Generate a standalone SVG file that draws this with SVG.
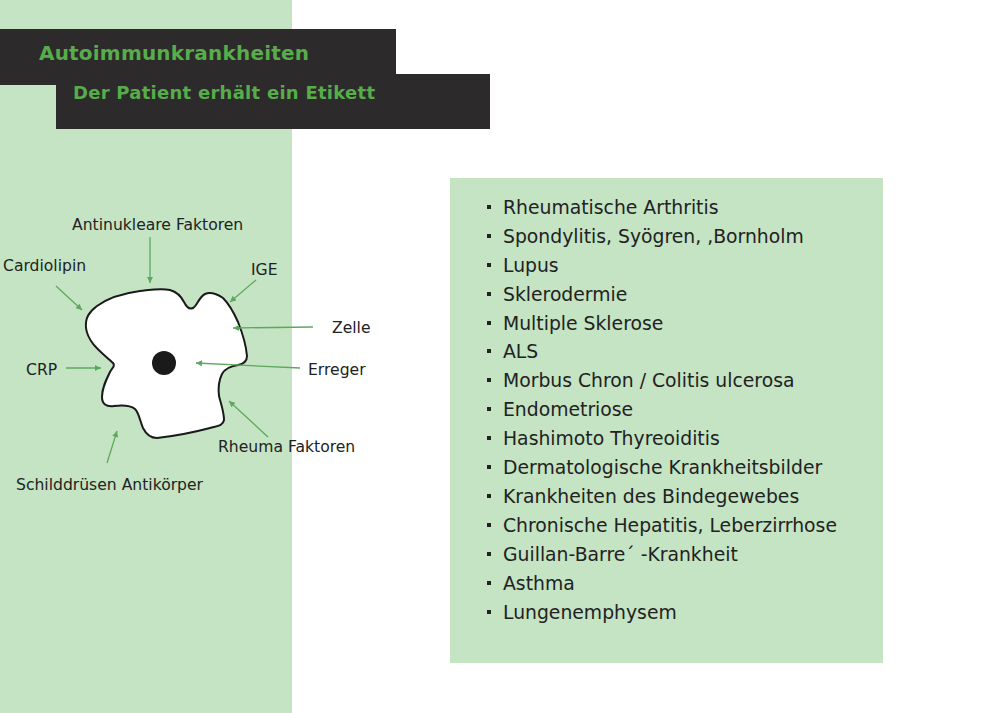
<svg xmlns="http://www.w3.org/2000/svg" width="1007" height="713" viewBox="0 0 1007 713">
<style>
.lbl{font-family:"DejaVu Sans","Liberation Sans",sans-serif;font-size:15.6px;fill:#222}
.li{font-family:"DejaVu Sans","Liberation Sans",sans-serif;font-size:18.8px;fill:#222}
.ttl{font-family:"DejaVu Sans","Liberation Sans",sans-serif;font-weight:bold;fill:#56ad4a}
.arr{stroke:#5ea85e;stroke-width:1.3;fill:none;marker-end:url(#ah)}
.bul{fill:#222}
</style>
<defs>
<marker id="ah" viewBox="0 0 10 10" refX="10" refY="5" markerWidth="8" markerHeight="6" markerUnits="userSpaceOnUse" orient="auto">
<path d="M0,0 L10,5 L0,10 Z" fill="#5ea85e"/>
</marker>
</defs>
<rect width="1007" height="713" fill="#ffffff"/>
<rect id="left-panel" x="0" y="0" width="292" height="713" fill="#c4e4c4"/>
<g id="banner-title">
<rect x="0" y="29" width="396" height="56" fill="#2d2a2b"/>
<text class="ttl" x="39" y="60" font-size="20" textLength="270" lengthAdjust="spacing">Autoimmunkrankheiten</text>
</g>
<g id="banner-subtitle">
<rect x="56" y="74" width="434" height="55" fill="#2d2a2b"/>
<text class="ttl" x="73" y="99" font-size="18" textLength="302" lengthAdjust="spacing">Der Patient erhält ein Etikett</text>
</g>
<g id="cell">
<path d="M113,363 C104,354 88,344 86,328 C85,318 89,312 97,306 C108,298 125,293 140,291 C150,290 160,288 170,290 C177,292 181,296 184,302 C186,306 189,310 193,308 C197,306 199,297 205,294 C210,292 217,294 223,298 C230,305 234,313 238,322 C242,332 246,344 247,356 C247,362 243,364 238,365 C232,366 225,368 222,374 C219,380 218,388 219,396 C221,404 224,412 224,420 C223,426 217,426 210,428 C195,432 175,436 157,438 C150,438 146,434 143,428 C140,421 139,413 135,409 C130,405 122,405 114,406 C106,407 102,404 102,397 C102,388 106,380 110,372 C112,368 116,366 113,363 Z" fill="#ffffff" stroke="#1a1a1a" stroke-width="2"/>
<circle cx="164" cy="363" r="12" fill="#1a1a1a"/>
</g>
<g id="connectors">
<line class="arr" x1="150" y1="237" x2="150" y2="283"/>
<line class="arr" x1="56" y1="286" x2="82" y2="310"/>
<line class="arr" x1="256" y1="280" x2="230" y2="302"/>
<line class="arr" x1="313" y1="327" x2="233" y2="328"/>
<line class="arr" x1="300" y1="368" x2="196" y2="363"/>
<line class="arr" x1="66" y1="368" x2="101" y2="368"/>
<line class="arr" x1="268" y1="437" x2="229" y2="401"/>
<line class="arr" x1="107" y1="463" x2="117" y2="431"/>
</g>
<g id="labels">
<text class="lbl" x="72" y="230">Antinukleare Faktoren</text>
<text class="lbl" x="3" y="271">Cardiolipin</text>
<text class="lbl" x="251" y="275">IGE</text>
<text class="lbl" x="332" y="333">Zelle</text>
<text class="lbl" x="308" y="375">Erreger</text>
<text class="lbl" x="26" y="375">CRP</text>
<text class="lbl" x="218" y="452">Rheuma Faktoren</text>
<text class="lbl" x="16" y="490">Schilddrüsen Antikörper</text>
</g>
<g id="disease-list">
<rect x="450" y="178" width="433" height="485" fill="#c4e4c4"/>
<rect class="bul" x="487" y="205" width="4" height="4"/>
<text class="li" x="503" y="214">Rheumatische Arthritis</text>
<rect class="bul" x="487" y="234" width="4" height="4"/>
<text class="li" x="503" y="243">Spondylitis, Syögren, ,Bornholm</text>
<rect class="bul" x="487" y="263" width="4" height="4"/>
<text class="li" x="503" y="272">Lupus</text>
<rect class="bul" x="487" y="292" width="4" height="4"/>
<text class="li" x="503" y="301">Sklerodermie</text>
<rect class="bul" x="487" y="321" width="4" height="4"/>
<text class="li" x="503" y="330">Multiple Sklerose</text>
<rect class="bul" x="487" y="349" width="4" height="4"/>
<text class="li" x="503" y="358">ALS</text>
<rect class="bul" x="487" y="378" width="4" height="4"/>
<text class="li" x="503" y="387">Morbus Chron / Colitis ulcerosa</text>
<rect class="bul" x="487" y="407" width="4" height="4"/>
<text class="li" x="503" y="416">Endometriose</text>
<rect class="bul" x="487" y="436" width="4" height="4"/>
<text class="li" x="503" y="445">Hashimoto Thyreoiditis</text>
<rect class="bul" x="487" y="465" width="4" height="4"/>
<text class="li" x="503" y="474">Dermatologische Krankheitsbilder</text>
<rect class="bul" x="487" y="494" width="4" height="4"/>
<text class="li" x="503" y="503">Krankheiten des Bindegewebes</text>
<rect class="bul" x="487" y="523" width="4" height="4"/>
<text class="li" x="503" y="532">Chronische Hepatitis, Leberzirrhose</text>
<rect class="bul" x="487" y="552" width="4" height="4"/>
<text class="li" x="503" y="561">Guillan-Barre´ -Krankheit</text>
<rect class="bul" x="487" y="581" width="4" height="4"/>
<text class="li" x="503" y="590">Asthma</text>
<rect class="bul" x="487" y="610" width="4" height="4"/>
<text class="li" x="503" y="619">Lungenemphysem</text>
</g>
</svg>
